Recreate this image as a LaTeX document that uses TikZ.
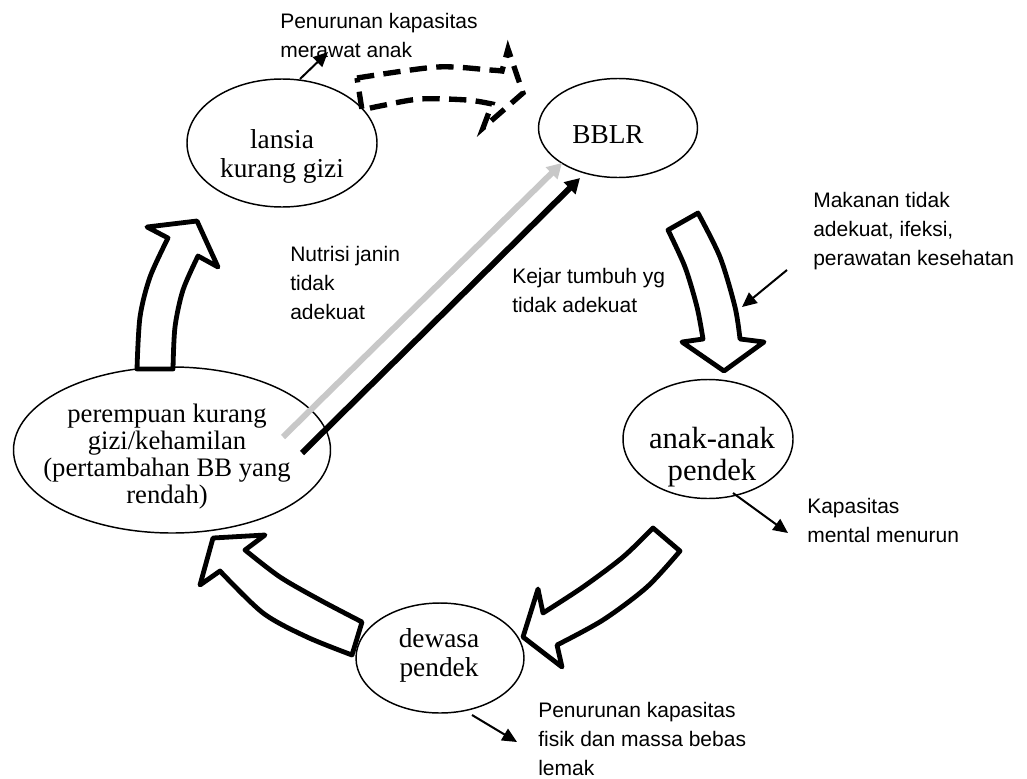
\documentclass[tikz,border=0pt]{standalone}
\usepackage{fontspec}
\setmainfont{Liberation Serif}
\newfontfamily\lsans{Liberation Sans}
\usetikzlibrary{shapes.geometric,arrows.meta}
\begin{document}
\begin{tikzpicture}[x=0.75pt,y=-0.75pt,
 ell/.style={draw,ellipse,line width=1.1pt,inner sep=0pt},
 etext/.style={align=center,font=\fontsize{20.5}{21.75}\selectfont,anchor=base,inner sep=0pt},
 lab/.style={align=left,font=\lsans\fontsize{15.75}{21.75}\selectfont,anchor=base west,inner sep=0pt},
 blockarrow/.style={draw,fill=white,line width=3.6pt,line join=round},
 dasharrow/.style={draw,line width=4pt,dash pattern=on 13pt off 7pt},
 thinarrow/.style={line width=1.5pt,-{Triangle[length=11pt,width=10pt]}},
 longarrow/.style={line width=4.5pt,-{Triangle[length=11pt,width=12pt]}}]
\useasboundingbox (0,0) rectangle (1027,778);

% ellipses
\node[ell,minimum width=142.5pt,minimum height=96pt] (lansia) at (282,143) {};
\node[ell,minimum width=119.25pt,minimum height=74.25pt] (bblr) at (618,128) {};
\node[ell,minimum width=127.5pt,minimum height=89.25pt] (anak) at (708,439) {};
\node[ell,minimum width=126pt,minimum height=82.5pt] (dewasa) at (440,658) {};
\node[ell,minimum width=237.75pt,minimum height=124.5pt] (perempuan) at (172,450) {};

% ellipse texts (anchor = baseline of last line)
\node[etext] (tlansia) at (282,177) {lansia\\kurang gizi};
\node[etext] (tbblr) at (608,143) {BBLR};
\node[etext,font=\fontsize{23}{24}\selectfont] (tanak) at (712,480) {anak-anak\\pendek};
\node[etext] (tdewasa) at (439,676) {dewasa\\pendek};
\node[etext,font=\fontsize{20}{20.25}\selectfont] (tperempuan) at (167,503) {perempuan kurang\\gizi/kehamilan\\(pertambahan BB yang\\rendah)};

% block arrows
\path[blockarrow] (137,369) -- plot[smooth] coordinates {(137,369) (140,317) (150,277) (168,238)}
  -- (147,227) -- (197,221) -- (218,267)
  -- plot[smooth] coordinates {(198,256) (183,290) (175,327) (173,369)} -- cycle;
\path[blockarrow] (668,230) -- (698,213)
  -- plot[smooth] coordinates {(698,213) (720,257) (735,307) (740,339)}
  -- (764,342) -- (724,371) -- (682,342)
  -- plot[smooth] coordinates {(703,339) (697,307) (685,267) (668,230)} -- cycle;
\path[blockarrow] (653,528) -- (680,551)
  -- plot[smooth] coordinates {(680,551) (647,587) (603,620) (557,645)}
  -- (562,667) -- (523,637) -- (538,589)
  -- plot[smooth] coordinates {(543,613) (583,587) (623,557) (653,528)} -- cycle;
\path[blockarrow] (213,538) -- (265,535)
  -- plot[smooth] coordinates {(245,550) (280,577) (320,600) (362,622)}
  -- (352,655)
  -- plot[smooth] coordinates {(352,655) (307,637) (263,613) (220,571)}
  -- (200,585) -- cycle;
% dashed block arrow
\path[dasharrow] (357,78)
  -- plot[smooth] coordinates {(357,78) (437,67) (490,70) (502,71)}
  -- (508,49) -- (523,93) -- (483,128) -- (492,104)
  -- plot[smooth] coordinates {(492,104) (467,100) (420,99) (380,106) (362,110)} -- cycle;

% labels (anchor = baseline of last line)
\node[lab] (l1) at (280,57) {Penurunan kapasitas\\merawat anak};
\begin{scope}
\clip (280,230) rectangle (430,318);
\node[lab] (l2) at (290,319) {Nutrisi janin\\tidak\\adekuat};
\end{scope}
\node[lab] (l3) at (512,312) {Kejar tumbuh yg\\tidak adekuat};
\node[lab] (l4) at (813,265) {Makanan tidak\\adekuat, ifeksi,\\perawatan kesehatan};
\node[lab] (l5) at (807,542) {Kapasitas\\mental menurun};
\node[lab] (l6) at (538,775) {Penurunan kapasitas\\fisik dan massa bebas\\lemak};

% thin arrows
\coordinate (a1s) at (300,79);
\coordinate (a1e) at (328,52);
\coordinate (a2s) at (787,270);
\coordinate (a2e) at (742,307);
\coordinate (a3s) at (733,493);
\coordinate (a3e) at (788,533);
\coordinate (a4s) at (472,715);
\coordinate (a4e) at (517,742);
\draw[thinarrow] (a1s) -- (a1e);
\draw[thinarrow] (a2s) -- (a2e);
\draw[thinarrow] (a3s) -- (a3e);
\draw[thinarrow] (a4s) -- (a4e);

% long arrows
\coordinate (gs) at (283,437);
\coordinate (ge) at (562,163);
\coordinate (bs) at (302,453);
\coordinate (be) at (580,178);
\draw[longarrow,color={rgb,255:red,200;green,200;blue,200}] (gs) -- (ge);
\draw[longarrow] (bs) -- (be);
\end{tikzpicture}
\end{document}
